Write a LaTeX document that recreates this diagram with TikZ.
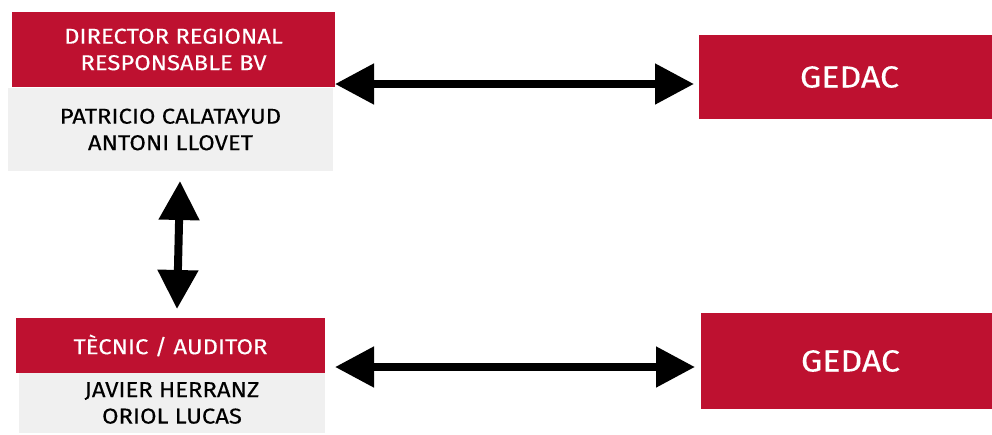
\documentclass[tikz,border=0pt]{standalone}
\usepackage{fontspec}
\setmainfont{Fira Sans}[FakeStretch=1.11,FakeBold=0.25]
\usetikzlibrary{arrows.meta,calc}
\definecolor{bvred}{HTML}{BE1130}
\definecolor{bvgray}{HTML}{F0F0F0}
\begin{document}
\begin{tikzpicture}[x=1pt,y=-1pt,
  box/.style={rectangle, inner sep=0pt, outer sep=0pt, align=center},
  redbox/.style={box, fill=bvred, text=white},
  graybox/.style={box, fill=bvgray, text=black},
  smalltxt/.style={font=\fontsize{21.5}{26.5}\selectfont},
  bigtxt/.style={font=\fontsize{30.5}{36}\selectfont},
  dbl/.style={{Triangle[length=39pt,width=39pt]}-{Triangle[length=39pt,width=39pt]}, line width=8pt}
]
\useasboundingbox (0,0) rectangle (992,434);
\node[redbox,smalltxt,minimum width=323pt,minimum height=75pt] (dirtitle) at (173.5,49.5) {DIRECTOR REGIONAL\\RESPONSABLE BV};
\node[graybox,smalltxt,minimum width=325pt,minimum height=83pt] (dirnames) at (170.5,129.5) {PATRICIO CALATAYUD\\ANTONI LLOVET};
\node[redbox,bigtxt,minimum width=301pt,minimum height=84pt] (gedacA) at (849.5,77) {GEDAC};
\node[redbox,smalltxt,minimum width=309pt,minimum height=55pt] (tectitle) at (170.5,345.5) {TÈCNIC / AUDITOR};
\node[graybox,smalltxt,minimum width=306pt,minimum height=60pt] (tecnames) at (172,403) {JAVIER HERRANZ\\ORIOL LUCAS};
\node[redbox,bigtxt,minimum width=299pt,minimum height=96pt] (gedacB) at (850.5,361) {GEDAC};
\draw[dbl] (dirtitle.east |- 0,84) -- ([xshift=-5pt]gedacA.west |- 0,84);
\draw[dbl] ($(dirnames.south)+(9.5,10)$) -- ($(tectitle.north)+(6.5,-9)$);
\draw[dbl] ([xshift=10pt]tectitle.east |- 0,367) -- ([xshift=-6pt]gedacB.west |- 0,367);
\end{tikzpicture}
\end{document}
